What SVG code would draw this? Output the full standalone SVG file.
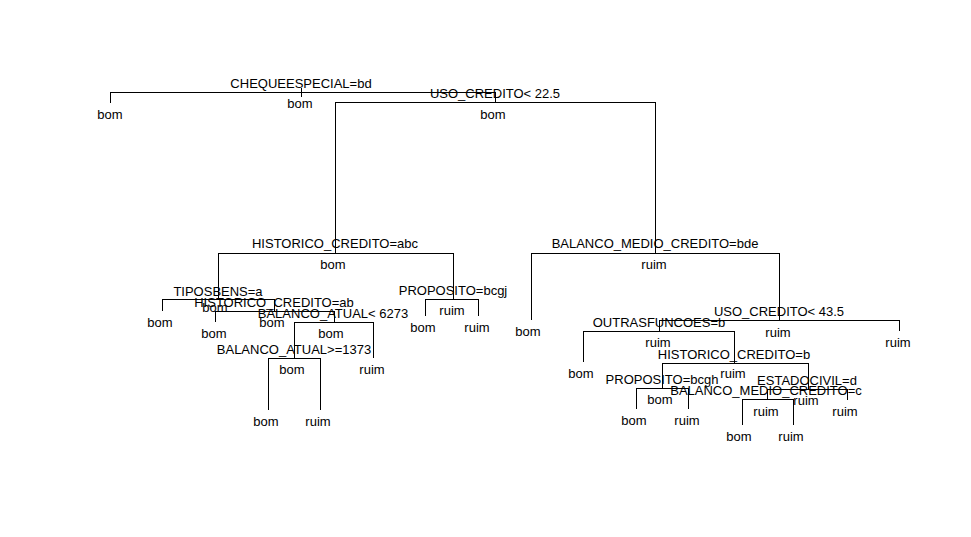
<svg xmlns="http://www.w3.org/2000/svg" width="971" height="537" viewBox="0 0 971 537">
<style>
text{font-family:"Liberation Sans",Arial,sans-serif;font-size:13px;fill:#000;text-anchor:middle}
.e{fill:none;stroke:#000;stroke-width:1;shape-rendering:crispEdges}
</style>
<rect width="971" height="537" fill="#fff"/>
<g id="connectors" class="e">
<path class="e" d="M301.5 88V97"/>
<path class="e" d="M110.5 103V92.5H301.5"/>
<path class="e" d="M495.5 102.5V92.5H301.5"/>
<path class="e" d="M335.5 253V102.5H495.5"/>
<path class="e" d="M655.5 253V102.5H495.5"/>
<path class="e" d="M218.5 299V253.5H335.5"/>
<path class="e" d="M453.5 299V253.5H335.5"/>
<path class="e" d="M162.5 311V299.5H218.5"/>
<path class="e" d="M274.5 311V299.5H218.5"/>
<path class="e" d="M215.5 322V311.5H274.5"/>
<path class="e" d="M334.5 322V311.5H274.5"/>
<path class="e" d="M294.5 358V322.5H334.5"/>
<path class="e" d="M373.5 358V322.5H334.5"/>
<path class="e" d="M268.5 410V358.5H294.5"/>
<path class="e" d="M320.5 410V358.5H294.5"/>
<path class="e" d="M425.5 316V299.5H453.5"/>
<path class="e" d="M478.5 316V299.5H453.5"/>
<path class="e" d="M531.5 320V253.5H655.5"/>
<path class="e" d="M779.5 320V253.5H655.5"/>
<path class="e" d="M659.5 331V320.5H779.5"/>
<path class="e" d="M899.5 331V320.5H779.5"/>
<path class="e" d="M583.5 362V331.5H659.5"/>
<path class="e" d="M734.5 363V331.5H659.5"/>
<path class="e" d="M662.5 388V363.5H734.5"/>
<path class="e" d="M808.5 389V363.5H734.5"/>
<path class="e" d="M636.5 409V388.5H662.5"/>
<path class="e" d="M688.5 409V388.5H662.5"/>
<path class="e" d="M767.5 399V389.5H808.5"/>
<path class="e" d="M847.5 400V389.5H808.5"/>
<path class="e" d="M742.5 425V399.5H767.5"/>
<path class="e" d="M793.5 425V399.5H767.5"/>
</g>
<g id="n1"><text x="301" y="88">CHEQUEESPECIAL=bd</text><text x="300" y="107.5">bom</text></g>
<g id="n2"><text x="110" y="119">bom</text></g>
<g id="n3"><text x="495" y="98">USO_CREDITO&lt; 22.5</text><text x="493" y="118.5">bom</text></g>
<g id="n4"><text x="335" y="248">HISTORICO_CREDITO=abc</text><text x="333" y="268.5">bom</text></g>
<g id="n5"><text x="655" y="248">BALANCO_MEDIO_CREDITO=bde</text><text x="654" y="269">ruim</text></g>
<g id="n6"><text x="218" y="296">TIPOSBENS=a</text><text x="215" y="311.5">bom</text></g>
<g id="n7"><text x="160" y="326.5">bom</text></g>
<g id="n8"><text x="274" y="307">HISTORICO_CREDITO=ab</text><text x="272" y="326.5">bom</text></g>
<g id="n9"><text x="214" y="337.5">bom</text></g>
<g id="n10"><text x="333" y="318">BALANCO_ATUAL&lt; 6273</text><text x="331" y="337.5">bom</text></g>
<g id="n11"><text x="294" y="354">BALANCO_ATUAL&gt;=1373</text><text x="292" y="373.5">bom</text></g>
<g id="n12"><text x="372" y="373.5">ruim</text></g>
<g id="n13"><text x="266" y="425.5">bom</text></g>
<g id="n14"><text x="318" y="425.5">ruim</text></g>
<g id="n15"><text x="453" y="295">PROPOSITO=bcgj</text><text x="452" y="314.5">ruim</text></g>
<g id="n16"><text x="423" y="331.5">bom</text></g>
<g id="n17"><text x="477" y="331.5">ruim</text></g>
<g id="n18"><text x="528" y="335.5">bom</text></g>
<g id="n19"><text x="779" y="316">USO_CREDITO&lt; 43.5</text><text x="778" y="336.5">ruim</text></g>
<g id="n20"><text x="898" y="346.5">ruim</text></g>
<g id="n21"><text x="659" y="327">OUTRASFUNCOES=b</text><text x="658" y="346.5">ruim</text></g>
<g id="n22"><text x="581" y="377.5">bom</text></g>
<g id="n23"><text x="734" y="359">HISTORICO_CREDITO=b</text><text x="733" y="377.5">ruim</text></g>
<g id="n24"><text x="662" y="384">PROPOSITO=bcgh</text><text x="660" y="403.5">bom</text></g>
<g id="n25"><text x="634" y="424.5">bom</text></g>
<g id="n26"><text x="687" y="424.5">ruim</text></g>
<g id="n27"><text x="807" y="385">ESTADOCIVIL=d</text><text x="806" y="404.5">ruim</text></g>
<g id="n28"><text x="766" y="395">BALANCO_MEDIO_CREDITO=c</text><text x="766" y="415.5">ruim</text></g>
<g id="n29"><text x="845" y="415.5">ruim</text></g>
<g id="n30"><text x="739" y="440.5">bom</text></g>
<g id="n31"><text x="791" y="440.5">ruim</text></g>
</svg>
